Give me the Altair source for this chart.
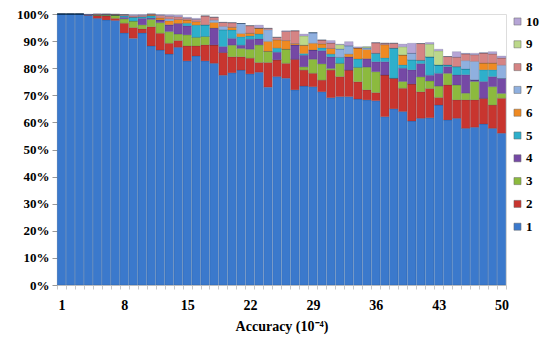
import altair as alt
import pandas as pd

accuracy = list(range(1, 51))

s1 = [100, 100, 100, 99.5, 98.4, 97.8, 97.6, 93, 91, 93,
      88.2, 86.7, 85.2, 87.7, 82.7, 84.5, 82.7, 81.8, 77.4, 78.3,
      79.3, 77.9, 78.5, 73, 76.9, 76.3, 72, 73.4, 73.2, 71.3,
      69.1, 69.5, 69.5, 68.6, 68.3, 68, 62.1, 65, 64, 60.5,
      61.5, 61.7, 66.4, 60.9, 61.5, 57.8, 58.2, 59.4, 57.8, 56]
s2 = [0, 0, 0, 0.3, 1.0, 1.5, 0.8, 3.6, 4.0, 1.5,
      7.1, 6.2, 4.0, 2.5, 5.5, 3.7, 5.9, 6.8, 8.4, 5.9,
      4.9, 5.8, 3.6, 9.1, 6.2, 5.5, 11.3, 5.9, 4.9, 4.3,
      10.2, 7.4, 9.8, 6.4, 3.7, 3.0, 15.4, 11.3, 8.6, 13.7,
      9.8, 10.8, 2.8, 12.9, 6.8, 10.5, 10.1, 9.5, 8.6, 12.9]
s3 = [0, 0, 0, 0, 0.3, 0.3, 1.2, 1.6, 2.4, 1.5,
      2.7, 3.9, 4.3, 2.4, 4.1, 3.2, 3.1, 0, 0, 4.3,
      3.1, 3.3, 6.5, 4.1, 0, 5.2, 0, 1.2, 5.2, 6.0,
      0.6, 4.9, 0, 5.3, 8.4, 7.7, 0, 0, 2.5, 0,
      5.5, 2.8, 4.2, 4.3, 5.5, 2.5, 6.8, 0, 6.8, 1.8]
s4 = [0, 0, 0, 0, 0, 0, 0, 0.6, 0, 2.4,
      0.5, 1.0, 2.5, 3.9, 3.3, 0, 0, 6.2, 2.2, 2.5,
      1.2, 3.7, 2.2, 0, 2.8, 0, 5.3, 4.3, 3.4, 4.9,
      4.3, 0, 4.9, 0, 3.1, 3.7, 4.9, 0, 4.9, 5.2,
      4.9, 2.1, 4.7, 2.5, 3.7, 6.8, 0.6, 6.2, 3.7, 5.5]
s5 = [0, 0, 0, 0, 0, 0.2, 0, 0.6, 1.4, 0.6,
      0.8, 0, 0, 0, 1.0, 4.5, 4.3, 0, 6.2, 3.1,
      3.1, 1.2, 1.8, 0, 1.5, 0, 0, 0.6, 0, 1.0,
      1.0, 2.2, 0, 3.1, 0, 3.1, 1.4, 11.1, 1.2, 3.7,
      1.2, 6.8, 3.1, 0.6, 3.1, 2.1, 0, 4.3, 2.5, 0]
s6 = [0, 0, 0, 0, 0, 0, 0, 0, 0, 0,
      0.3, 0.8, 1.5, 1.5, 1.2, 1.3, 0, 2.1, 0, 1.0,
      1.2, 1.0, 2.2, 3.7, 3.1, 3.2, 0.5, 3.1, 2.5, 1.5,
      2.1, 0, 1.0, 4.1, 3.4, 0, 4.9, 0, 3.7, 0,
      0, 0, 0, 0, 0, 0, 0, 2.5, 2.5, 0]
s7 = [0, 0, 0, 0, 0, 0, 0, 0, 0, 0,
      0, 0, 0.7, 0, 0, 0, 0, 0.8, 1.2, 0,
      3.7, 0, 0, 4.3, 0, 0, 0, 0, 3.9, 0,
      0, 3.1, 3.1, 0, 0.6, 0, 0, 0, 0, 2.4,
      0, 0, 0, 0, 0, 3.1, 6.8, 0, 0, 4.9]
s8 = [0, 0, 0, 0, 0.3, 0.2, 0.3, 0.4, 0.6, 0.5,
      0.4, 0.9, 1.0, 1.0, 0.6, 0.8, 3.3, 1.1, 1.5, 1.7,
      0, 2.8, 0, 0.5, 0.9, 3.4, 4.7, 0, 0, 1.4,
      2.0, 0, 0, 0, 0, 3.9, 0.5, 1.8, 0, 0,
      6.2, 0, 0, 3.1, 3.5, 2.5, 2.5, 3.7, 3.4, 2.7]
s9 = [0, 0, 0, 0, 0, 0, 0, 0, 0, 0,
      0, 0, 0, 0, 0, 0, 0, 0, 0, 0,
      0, 0, 0, 0, 0, 0, 0, 3.4, 0, 0,
      0, 1.6, 0, 0, 0.4, 0, 0, 0, 3.0, 0,
      0, 4.7, 5.2, 0, 0, 0, 0, 0, 0, 0]
s10 = [0, 0, 0, 0.2, 0, 0, 0, 0, 0.4, 0.3,
       0, 0.3, 0.5, 0.6, 0.4, 0.4, 0, 0, 0, 0,
       0, 0, 1.1, 0, 0, 0.2, 0, 0.7, 0, 0,
       0.9, 0.2, 1.5, 0.4, 0, 0, 0, 0, 1.0, 3.7,
       0, 0.6, 0.6, 0, 2.0, 0.2, 0.5, 0.1, 0.8, 0.7]

series_names = ["1", "2", "3", "4", "5", "6", "7", "8", "9", "10"]
series_colors = ["#3b79cc", "#c8352f", "#8cba3e", "#7549a5", "#2eafcb",
                 "#ef8a22", "#8fb0df", "#d58484", "#bcd88a", "#b6a5d6"]
all_series = [s1, s2, s3, s4, s5, s6, s7, s8, s9, s10]
x_labels = [1, 8, 15, 22, 29, 36, 43, 50]
y_ticks = [0, 10, 20, 30, 40, 50, 60, 70, 80, 90, 100]

rows = []
for i, a in enumerate(accuracy):
    for k, (name, vals) in enumerate(zip(series_names, all_series)):
        rows.append({"Accuracy": a, "Series": name, "ord": k, "Value": vals[i]})
df = pd.DataFrame(rows)

font = "Liberation Serif"
legend_domain = series_names[::-1]
legend_range = series_colors[::-1]

label_expr = "indexof([" + ",".join(str(v) for v in x_labels) + "], datum.value) >= 0 ? datum.label : ''"

chart = alt.Chart(df).mark_bar(
    stroke="#0b2447", strokeOpacity=0.22, strokeWidth=0.6
).encode(
    x=alt.X("Accuracy:O",
            scale=alt.Scale(paddingInner=0.04, paddingOuter=0.02),
            axis=alt.Axis(title="Accuracy (10⁻⁴)", labelExpr=label_expr,
                          labelAngle=0, labelOverlap=False, labelFont=font,
                          labelFontSize=14, labelFontWeight="bold", labelColor="#000",
                          labelPadding=9, titleFont=font, titleFontSize=14,
                          titleFontWeight="bold", titleColor="#000", titlePadding=7,
                          tickBand="extent", tickSize=4, tickColor="#c8c8c8",
                          domainColor="#c8c8c8")),
    y=alt.Y("Value:Q", stack="zero",
            scale=alt.Scale(domain=[0, 100], nice=False),
            axis=alt.Axis(title=None, values=y_ticks, labelExpr="datum.value + '%'",
                          labelFont=font, labelFontSize=13, labelFontWeight="bold",
                          labelColor="#000", tickSize=5, tickColor="#999",
                          domain=False, grid=False, labelPadding=3)),
    color=alt.Color("Series:N",
                    scale=alt.Scale(domain=legend_domain, range=legend_range),
                    legend=alt.Legend(title=None, orient="none", legendX=454, legendY=1,
                                      symbolType="square", symbolSize=50,
                                      symbolStrokeWidth=0.5, symbolStrokeColor="#666",
                                      labelFont=font, labelFontSize=13,
                                      labelFontWeight="bold", labelColor="#000",
                                      rowPadding=8.8, labelOffset=2)),
    order=alt.Order("ord:Q", sort="ascending"),
).properties(
    width=449, height=271,
    padding={"left": 49, "top": 6, "right": 34, "bottom": 57},
    autosize=alt.AutoSizeParams(type="none"),
).configure_view(stroke=None).configure(background="#ffffff")

chart.save("out.html", embed_options={"renderer": "svg", "actions": False})
